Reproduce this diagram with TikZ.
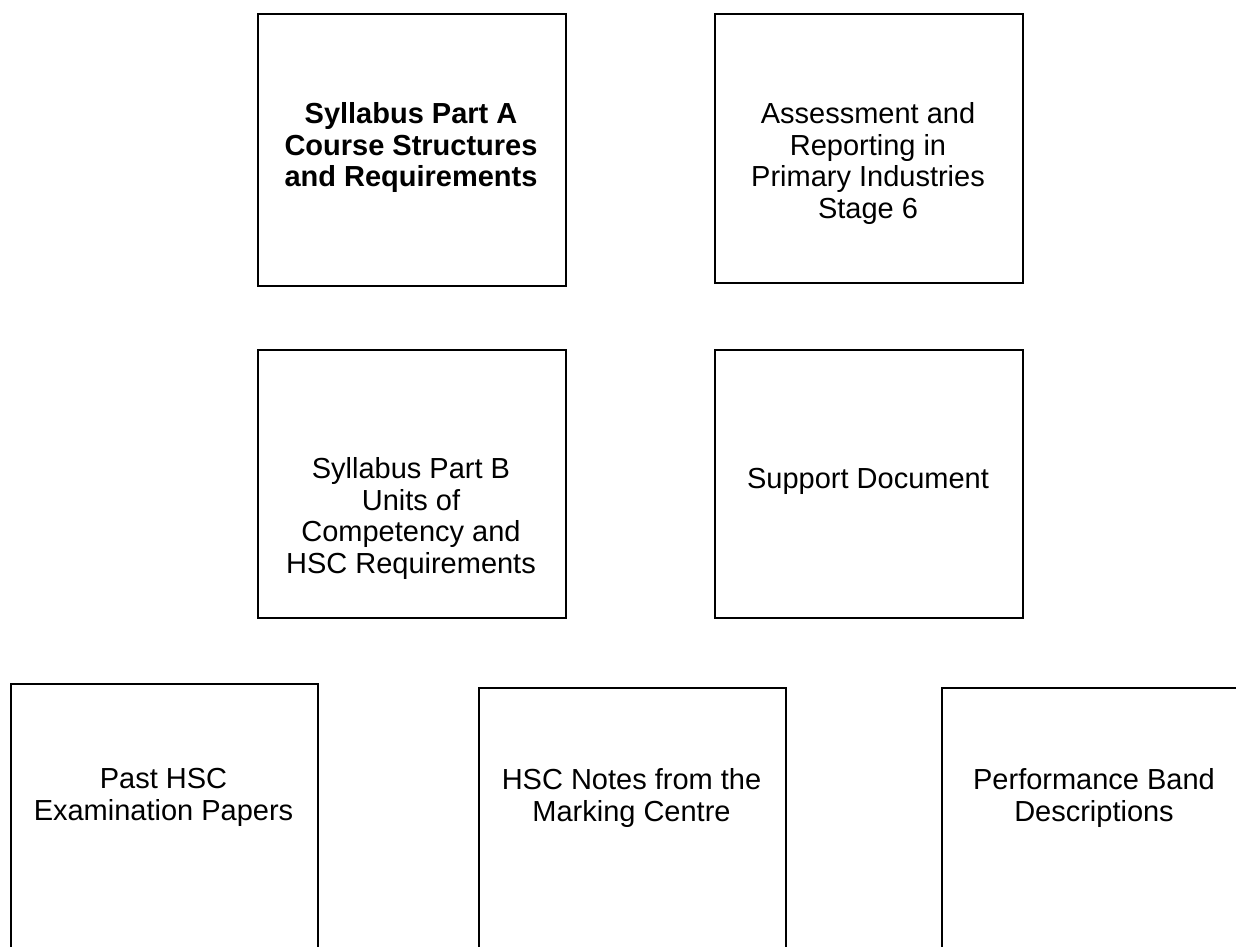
\documentclass[tikz,border=0pt]{standalone}
\usepackage{fontspec}
\setmainfont{Liberation Sans}

\begin{document}
\begin{tikzpicture}[x=0.02cm,y=-0.02cm,
    docbox/.style={draw=black,line width=1.3pt,inner sep=0pt,anchor=north west,minimum width=6.16cm},
    doclabel/.style={align=center,inner sep=0pt,anchor=north,font=\fontsize{16.5}{18.1}\selectfont}]
      \path[use as bounding box,clip] (0,0) rectangle (1236,946);

      % top row
      \node[docbox,minimum height=5.44cm] (partA) at (257,13) {};
      \node[docbox,minimum height=5.38cm] (assess) at (714,13) {};
      % middle row
      \node[docbox,minimum height=5.36cm] (partB) at (257,349) {};
      \node[docbox,minimum height=5.36cm] (support) at (714,349) {};
      % bottom row, runs off the page
      \node[docbox,minimum width=6.14cm,minimum height=5.4cm] (past) at (10,683) {};
      \node[docbox,minimum width=6.14cm,minimum height=5.4cm] (notes) at (478,687) {};
      \node[docbox,minimum width=6.12cm,minimum height=5.4cm] (bands) at (941,687) {};

      \node[doclabel,font=\fontsize{16.5}{18.1}\selectfont\bfseries] (partAtext) at (411,102) {Syllabus Part A\\Course Structures\\and Requirements};
      \node[doclabel] (assesstext) at (868,102) {Assessment and\\Reporting in\\Primary Industries\\Stage 6};
      \node[doclabel] (partBtext) at (411,457) {Syllabus Part B\\Units of\\Competency and\\HSC Requirements};
      \node[doclabel] (supporttext) at (868,468) {Support Document};
      \node[doclabel] (pasttext) at (163.5,768) {Past HSC\\Examination Papers};
      \node[doclabel] (notestext) at (631.5,768) {HSC Notes from the\\Marking Centre};
      \node[doclabel] (bandstext) at (1094,768) {Performance Band\\Descriptions};
\end{tikzpicture}
\end{document}
